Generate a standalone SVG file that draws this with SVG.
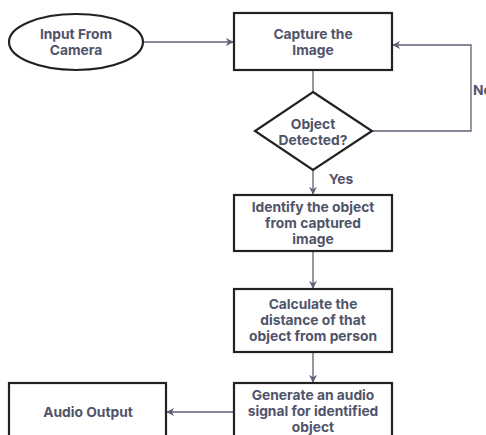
<svg xmlns="http://www.w3.org/2000/svg" width="486" height="435" viewBox="0 0 486 435">
<defs>
<style>
.n{fill:#fff;stroke:#222;stroke-width:2.2}
.t{font-family:Inter,"Liberation Sans",sans-serif;font-weight:700;font-size:13.8px;fill:#50546a;text-anchor:middle}
.c{fill:none;stroke:#5d6178;stroke-width:1.3}
</style>
<marker id="a" viewBox="0 0 10 10" refX="9" refY="5" markerWidth="8" markerHeight="8" markerUnits="userSpaceOnUse" orient="auto">
<path d="M0,0 L10,5 L0,10 L3,5 Z" fill="#5d6178"/>
</marker>
</defs>
<rect width="486" height="435" fill="#fff"/>
<g id="connectors">
<path class="c" d="M143,42 H233" marker-end="url(#a)"/>
<path class="c" d="M313,70 V92"/>
<path class="c" d="M372,131 H471 V45 H393" marker-end="url(#a)"/>
<path class="c" d="M313,170 V194" marker-end="url(#a)"/>
<path class="c" d="M313,251 V288" marker-end="url(#a)"/>
<path class="c" d="M313,352 V382" marker-end="url(#a)"/>
<path class="c" d="M234,412 H167" marker-end="url(#a)"/>
<text class="t" x="341" y="184">Yes</text>
<text class="t" x="473" y="95" style="text-anchor:start">No</text>
</g>
<g id="input">
<ellipse class="n" cx="76" cy="42" rx="67" ry="28"/>
<text class="t" x="76" y="39">Input From</text>
<text class="t" x="76" y="55">Camera</text>
</g>
<g id="capture">
<rect class="n" x="234" y="13" width="158" height="57"/>
<text class="t" x="313" y="39">Capture the</text>
<text class="t" x="313" y="55">Image</text>
</g>
<g id="decision">
<polygon class="n" points="313,92 372,131 313,170 255,131"/>
<text class="t" x="313" y="129">Object</text>
<text class="t" x="313" y="145">Detected?</text>
</g>
<g id="identify">
<rect class="n" x="234" y="195" width="158" height="56"/>
<text class="t" x="313" y="212">Identify the object</text>
<text class="t" x="313" y="228">from captured</text>
<text class="t" x="313" y="244">image</text>
</g>
<g id="calculate">
<rect class="n" x="234" y="289" width="158" height="63"/>
<text class="t" x="313" y="309">Calculate the</text>
<text class="t" x="313" y="325">distance of that</text>
<text class="t" x="313" y="341">object from person</text>
</g>
<g id="generate">
<rect class="n" x="234" y="383" width="158" height="60"/>
<text class="t" x="313" y="400">Generate an audio</text>
<text class="t" x="313" y="416">signal for identified</text>
<text class="t" x="313" y="432">object</text>
</g>
<g id="audio">
<rect class="n" x="9" y="383" width="157" height="60"/>
<text class="t" x="88" y="417">Audio Output</text>
</g>
</svg>
